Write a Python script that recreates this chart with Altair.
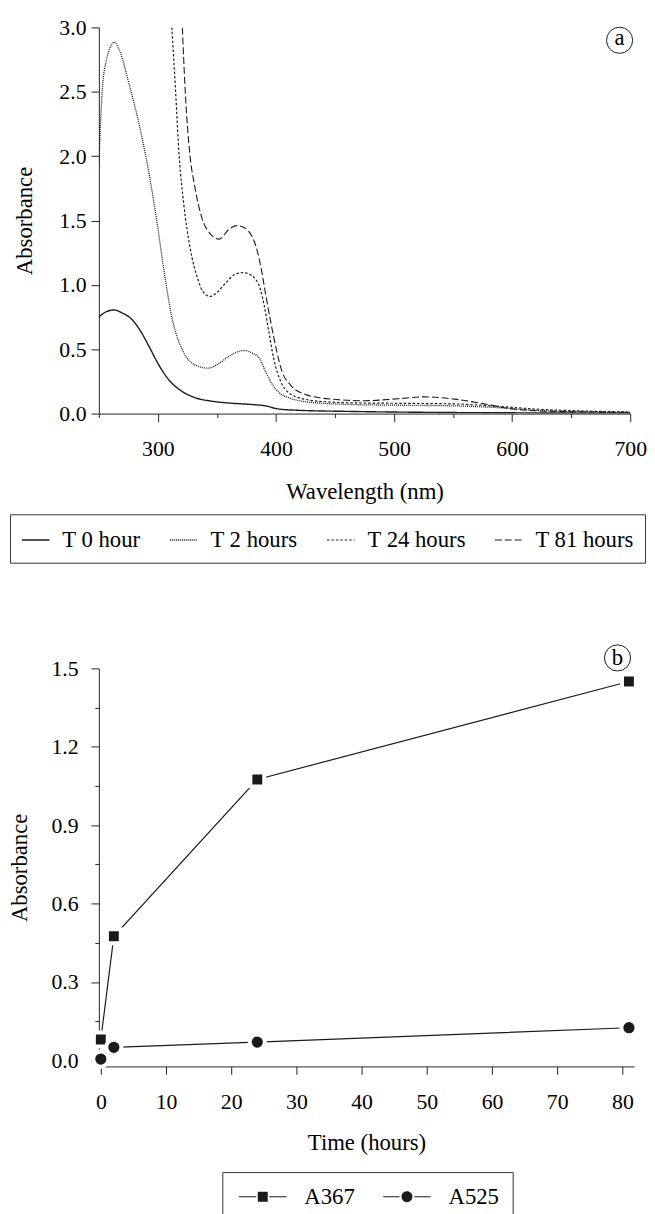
import altair as alt
import pandas as pd

FONT = "Liberation Serif"
INK = "#1a1a1a"

# ---------------- Panel (a): absorption spectra ----------------
series_a = ["T 0 hour", "T 2 hours", "T 24 hours", "T 81 hours"]

wl_t0 = [250, 256, 263, 270, 277, 284, 292, 300, 309, 320, 331, 345, 360, 377,
         391, 402, 420, 460, 500, 550, 600, 650, 700]
ab_t0 = [0.75, 0.79, 0.805, 0.78, 0.74, 0.66, 0.53, 0.39, 0.265, 0.175, 0.125,
         0.097, 0.082, 0.072, 0.06, 0.036, 0.025, 0.017, 0.012, 0.008, 0.006,
         0.004, 0.003]

wl_t2 = [250, 253, 256, 259, 263, 268, 275, 284, 292, 299, 305, 312, 321.5, 331,
         342.5, 350, 358, 366, 373, 380, 386, 391, 397, 403, 411, 425, 461, 500,
         550, 590, 620, 660, 700]
ab_t2 = [1.94, 2.53, 2.73, 2.83, 2.885, 2.81, 2.58, 2.25, 1.89, 1.50, 1.12, 0.74,
         0.48, 0.38, 0.353, 0.38, 0.43, 0.475, 0.49, 0.47, 0.43, 0.33, 0.225,
         0.16, 0.123, 0.092, 0.071, 0.065, 0.06, 0.045, 0.025, 0.015, 0.008]

wl_t24 = [311.8, 315, 318, 322, 327, 334, 338, 344, 350, 358, 365, 372, 378,
          383, 387, 390, 394, 398, 404, 411, 425, 445, 461, 500, 550, 590, 620,
          660, 700]
ab_t24 = [3.0, 2.5, 2.0, 1.62, 1.30, 1.04, 0.95, 0.91, 0.94, 1.02, 1.08,
          1.095, 1.08, 1.04, 0.96, 0.84, 0.635, 0.43, 0.25, 0.16, 0.11, 0.09,
          0.084, 0.08, 0.075, 0.055, 0.035, 0.02, 0.012]

wl_t81 = [320.7, 323, 327, 331.3, 336.9, 344, 352, 360, 367, 372, 377,
          383, 387, 391, 395.6, 400, 405, 412, 425, 447, 475, 503, 525, 553, 581,
          601, 643, 700]
ab_t81 = [3.0, 2.53, 2.02, 1.76, 1.53, 1.40, 1.355, 1.43, 1.46, 1.45,
          1.415, 1.30, 1.15, 0.94, 0.71, 0.51, 0.33, 0.225, 0.148, 0.112, 0.10,
          0.115, 0.13, 0.11, 0.067, 0.035, 0.015, 0.01]

label_a_wl = [691]
label_a_ab = [2.9]
label_a_txt = ["a"]

# ---------------- Panel (b): absorbance vs time ----------------
series_b = ["A367", "A525"]
time_h = [0, 2, 24, 81]
a367 = [0.08, 0.475, 1.075, 1.45]
a525 = [0.005, 0.05, 0.07, 0.125]

label_b_t = [79.25]
label_b_ab = [1.54]
label_b_txt = ["b"]

# ---------------- tables ----------------
rows = []
for name, wls, abs_ in zip(series_a, [wl_t0, wl_t2, wl_t24, wl_t81],
                           [ab_t0, ab_t2, ab_t24, ab_t81]):
    for w, a in zip(wls, abs_):
        rows.append({"series": name, "wl": w, "abs": a})
df_a = pd.DataFrame(rows)
df_a_lab = pd.DataFrame({"wl": label_a_wl, "abs": label_a_ab, "t": label_a_txt})

rows_b = []
for name, vals in zip(series_b, [a367, a525]):
    for t, v in zip(time_h, vals):
        rows_b.append({"series": name, "time": t, "abs": v})
df_b = pd.DataFrame(rows_b)
df_b_lab = pd.DataFrame({"time": label_b_t, "abs": label_b_ab, "t": label_b_txt})

# ---------------- panel (a) ----------------
x_a = alt.X(
    "wl:Q",
    scale=alt.Scale(domain=[250, 700], nice=False, zero=False),
    axis=alt.Axis(
        title="Wavelength (nm)",
        values=list(range(250, 701, 50)),
        format="d",
        labelExpr="datum.value % 100 == 0 ? datum.label : ''",
        tickDash={"condition": {"test": "datum.value % 100 == 0", "value": []},
                  "value": [4, 40]},
        labelPadding=17, titlePadding=22, labelFlush=False, labelOverlap=False,
    ),
)
y_a = alt.Y(
    "abs:Q",
    scale=alt.Scale(domain=[0, 3], nice=False, zero=False),
    axis=alt.Axis(
        title="Absorbance",
        values=[i * 0.25 for i in range(13)],
        format=".1f",
        labelExpr="datum.value % 0.5 == 0 ? datum.label : ''",
        tickDash={"condition": {"test": "datum.value % 0.5 == 0", "value": []},
                  "value": [4, 40]},
        labelPadding=5, titlePadding=23, labelFlush=False, labelOverlap=False,
    ),
)

lines_a = alt.Chart(df_a).mark_line(clip=True, interpolate="monotone", color=INK).encode(
    x=x_a,
    y=y_a,
    strokeDash=alt.StrokeDash(
        "series:N",
        scale=alt.Scale(domain=series_a, range=[[1, 0], [1, 1], [2.5, 2], [7, 3]]),
        legend=alt.Legend(
            title=None, orient="none", legendX=-90, legendY=493,
            direction="horizontal", symbolType="stroke", symbolSize=784,
            symbolStrokeWidth=1.3, symbolStrokeColor=INK,
            labelFont=FONT, labelFontSize=23, labelColor="black",
            labelOffset=12, columnPadding=26, padding=11, strokeColor="#333",
        ),
    ),
    strokeWidth=alt.StrokeWidth(
        "series:N",
        scale=alt.Scale(domain=series_a, range=[1.4, 1.1, 1.2, 1.2]),
        legend=None,
    ),
)

circ_a = alt.Chart(df_a_lab).mark_point(
    shape="circle", size=700, filled=False, color=INK, strokeWidth=1, opacity=1
).encode(x="wl:Q", y="abs:Q")
text_a = alt.Chart(df_a_lab).mark_text(
    font=FONT, fontSize=23, baseline="middle", dy=-2, color="black"
).encode(x="wl:Q", y="abs:Q", text="t:N")

top = alt.layer(lines_a, circ_a, text_a).properties(width=538, height=391)

# ---------------- panel (b) ----------------
x_b = alt.X(
    "time:Q",
    scale=alt.Scale(domain=[-0.3, 81.8], nice=False, zero=False),
    axis=alt.Axis(
        title="Time (hours)",
        values=list(range(0, 81, 5)),
        format="d",
        labelExpr="datum.value % 10 == 0 ? datum.label : ''",
        tickDash={"condition": {"test": "datum.value % 10 == 0", "value": []},
                  "value": [4, 40]},
        labelPadding=18, titlePadding=19, labelFlush=False, labelOverlap=False,
    ),
)
y_b = alt.Y(
    "abs:Q",
    scale=alt.Scale(domain=[-0.023, 1.5], nice=False, zero=False),
    axis=alt.Axis(
        title="Absorbance",
        values=[round(i * 0.15, 2) for i in range(11)],
        format=".1f",
        labelExpr="round(datum.value * 100) % 30 == 0 ? datum.label : ''",
        tickDash={"condition": {"test": "round(datum.value * 100) % 30 == 0", "value": []},
                  "value": [4, 40]},
        labelPadding=13, titlePadding=20, labelFlush=False, labelOverlap=False,
    ),
)

lines_b = alt.Chart(df_b).mark_line(color=INK, strokeWidth=1.2).encode(
    x=x_b, y=y_b, detail="series:N"
)
points_b = alt.Chart(df_b).mark_point(
    filled=True, fill=INK, stroke="white", strokeWidth=4, opacity=1
).encode(
    x="time:Q", y="abs:Q",
    shape=alt.Shape("series:N",
                    scale=alt.Scale(domain=series_b, range=["square", "circle"]),
                    legend=None),
    size=alt.Size("series:N",
                  scale=alt.Scale(domain=series_b, range=[196, 236]),
                  legend=None),
)
# legend glyphs "—■—" and "—●—" (filled outlines, unit = half symbol size)
legend_paths = [
    "M-0.67,-0.05H0.79V0.05H-0.67Z"
    "M1.87,-0.05H3.33V0.05H1.87Z"
    "M0.91,-0.42H1.75V0.42H0.91Z",
    "M-0.67,-0.05H0.71V0.05H-0.67Z"
    "M1.95,-0.05H3.33V0.05H1.95Z"
    "M1.79,0A0.46,0.46,0,1,1,0.87,0A0.46,0.46,0,1,1,1.79,0Z",
]
legend_b = alt.Chart(df_b).transform_filter("datum.time < 1").mark_point(
    filled=True, fill=INK, strokeWidth=0, opacity=0
).encode(
    x="time:Q", y="abs:Q",
    shape=alt.Shape(
        "series:N",
        scale=alt.Scale(domain=series_b, range=legend_paths),
        legend=alt.Legend(
            title=None, orient="none", legendX=125, legendY=510,
            direction="horizontal", symbolSize=576, symbolOpacity=1,
            symbolFillColor=INK, symbolStrokeWidth=0,
            labelFont=FONT, labelFontSize=23, labelColor="black",
            labelOffset=46, columnPadding=24, padding=13, strokeColor="#333",
        ),
    ),
)
circ_b = alt.Chart(df_b_lab).mark_point(
    shape="circle", size=700, filled=False, color=INK, strokeWidth=1, opacity=1,
    clip=False
).encode(x="time:Q", y="abs:Q")
text_b = alt.Chart(df_b_lab).mark_text(
    font=FONT, fontSize=23, baseline="middle", dy=0, color="black"
).encode(x="time:Q", y="abs:Q", text="t:N")

bottom = alt.layer(lines_b, points_b, legend_b, circ_b, text_b).resolve_scale(
    shape="independent", size="independent"
).properties(width=542, height=403)

chart = (
    alt.vconcat(top, bottom, spacing=141)
    .properties(padding={"top": 1, "left": 0, "right": 0, "bottom": 0})
    .configure_view(strokeWidth=0)
    .configure_axis(
        grid=False,
        domainColor="#222", domainWidth=1,
        tickColor="#222", tickWidth=1, tickSize=8,
        labelFont=FONT, labelFontSize=22, labelColor="black",
        titleFont=FONT, titleFontSize=23, titleFontWeight="normal", titleColor="black",
    )
)

chart.save("out.html", embed_options={"renderer": "svg", "actions": False})
